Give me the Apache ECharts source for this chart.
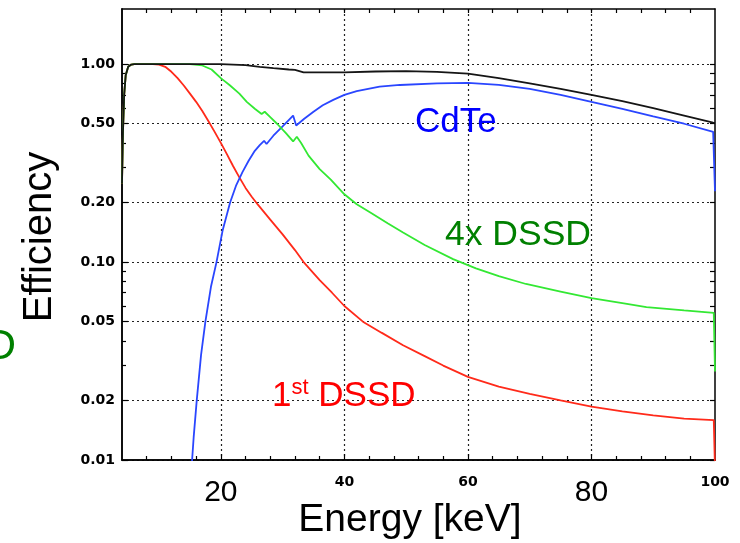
<!DOCTYPE html>
<html>
<head>
<meta charset="utf-8">
<script src="https://cdn.jsdelivr.net/npm/echarts@6/dist/echarts.min.js"></script>
<style>
  html, body { margin: 0; padding: 0; background: #fff; }
  #main { width: 740px; height: 543px; }
</style>
</head>
<body>
<div id="main"></div>
<script>
// tick / label values
var xLabels = [20, 40, 60, 80, 100];
var xMinor = [8, 12, 16, 24, 28, 32, 36, 44, 48, 52, 56, 64, 68, 72, 76, 84, 88, 92, 96];
var yLabels = [0.01, 0.02, 0.05, 0.1, 0.2, 0.5, 1];
var yMinor = [0.03, 0.04, 0.06, 0.07, 0.08, 0.09, 0.3, 0.4, 0.6, 0.7, 0.8, 0.9];

// 1st DSSD (red)
var redE = [4.0, 4.15, 4.35, 4.6, 5.0, 5.5, 6, 9, 10, 11, 12, 13, 14, 15, 16, 17, 18, 19, 20, 21, 22, 23, 24, 25, 26, 28, 30, 32, 33.4, 36, 38, 40, 43, 46, 49.5, 53, 56, 60, 65, 70, 75, 80, 85, 90, 95, 99.8, 100];
var redV = [0.25, 0.45, 0.7, 0.88, 0.97, 0.995, 1.0, 1.0, 0.995, 0.97, 0.915, 0.85, 0.78, 0.71, 0.645, 0.58, 0.515, 0.455, 0.40, 0.35, 0.305, 0.268, 0.237, 0.214, 0.195, 0.164, 0.138, 0.115, 0.10, 0.081, 0.070, 0.060, 0.050, 0.044, 0.038, 0.0335, 0.030, 0.0263, 0.0235, 0.0216, 0.0200, 0.0186, 0.0176, 0.0168, 0.0162, 0.0159, 0.009];

// CdTe (blue)
var blueE = [15.3, 15.6, 16.1, 16.8, 17.5, 18.4, 19.3, 20.3, 21.5, 22.5, 23.5, 24.5, 25.5, 26.3, 27.0, 27.4, 28.5, 30, 31.7, 32.2, 33.5, 35, 36.5, 38.2, 40, 42, 45.7, 49, 55, 60, 65, 70, 75, 80, 85, 90, 95, 99.7, 100];
var blueV = [0.0095, 0.013, 0.02, 0.034, 0.05, 0.075, 0.10, 0.145, 0.20, 0.245, 0.285, 0.325, 0.365, 0.39, 0.41, 0.395, 0.435, 0.485, 0.55, 0.49, 0.53, 0.575, 0.62, 0.66, 0.70, 0.73, 0.77, 0.785, 0.80, 0.805, 0.785, 0.75, 0.70, 0.645, 0.595, 0.545, 0.50, 0.455, 0.228];

// 4x DSSD (green)
var greenE = [4.0, 4.15, 4.35, 4.6, 5.0, 5.5, 6, 15, 17, 18.5, 20, 21.5, 23, 24.2, 25.5, 26.6, 27.1, 28, 29.1, 30.5, 31.7, 32.3, 33, 34.2, 36, 37.8, 40, 42, 44.2, 47, 49.5, 53, 57.6, 61.3, 65, 69.4, 75, 80, 85, 88.9, 95, 99.8, 100];
var greenV = [0.25, 0.45, 0.7, 0.88, 0.97, 0.995, 1.0, 1.0, 0.985, 0.94, 0.85, 0.78, 0.71, 0.645, 0.595, 0.56, 0.575, 0.54, 0.50, 0.45, 0.407, 0.43, 0.40, 0.345, 0.295, 0.261, 0.22, 0.196, 0.178, 0.157, 0.141, 0.122, 0.1035, 0.093, 0.085, 0.0775, 0.071, 0.0657, 0.062, 0.0592, 0.057, 0.0554, 0.028];

// total (black)
var blackE = [4.0, 4.15, 4.35, 4.6, 5.0, 5.5, 6, 20, 24, 26.3, 28.5, 31, 32, 33.4, 36, 40, 45, 50, 55, 60, 65, 70, 75, 80, 85, 90, 95, 99.7, 100];
var blackV = [0.25, 0.45, 0.7, 0.88, 0.97, 0.995, 1.0, 1.0, 0.99, 0.97, 0.955, 0.94, 0.935, 0.91, 0.91, 0.91, 0.918, 0.922, 0.915, 0.895, 0.85, 0.80, 0.75, 0.70, 0.65, 0.60, 0.55, 0.507, 0.505];

function pairs(xs, ys) {
  var out = [];
  for (var i = 0; i < xs.length; i++) {
    out.push([xs[i], ys[i]]);
  }
  return out;
}

function line(data, color) {
  return {
    type: 'line',
    data: data,
    xAxisIndex: 0,
    yAxisIndex: 0,
    showSymbol: false,
    symbol: 'none',
    lineStyle: {color: color, width: 1.8},
    itemStyle: {color: color},
    silent: true
  };
}

var frame = {show: true, onZero: false, lineStyle: {color: '#000', width: 1.5}};
var dotted = {show: true, lineStyle: {color: '#222', width: 1.2, type: [2, 3]}};
var noLabel = {show: false};
var noSplit = {show: false};

var myChart = echarts.init(document.getElementById('main'));

myChart.setOption({
  animation: false,
  grid: {left: 122, right: 25, top: 9, bottom: 83},
  xAxis: [
    {
      type: 'value', min: 4, max: 100, position: 'bottom',
      axisLine: frame,
      axisTick: {show: true, inside: true, length: 6, customValues: [20, 40, 60, 80], lineStyle: {color: '#000', width: 1.2}},
      axisLabel: {
        customValues: xLabels,
        margin: 14,
        formatter: function (v) {
          if (v == 20 || v == 80) {
            return '{big|' + v + '}';
          }
          return '{sm|' + v + '}';
        },
        rich: {
          sm: {fontFamily: 'DejaVu Sans', fontWeight: 'bold', fontSize: 14, lineHeight: 16, color: '#000'},
          big: {fontFamily: 'Liberation Sans', fontSize: 30, lineHeight: 34, color: '#000', padding: [3, 0, 0, 0]}
        }
      },
      splitLine: dotted
    },
    {
      type: 'value', min: 4, max: 100, position: 'bottom',
      axisLine: frame,
      axisTick: {show: true, inside: true, length: 4, customValues: xMinor, lineStyle: {color: '#000', width: 1.2}},
      axisLabel: noLabel, splitLine: noSplit
    },
    {
      type: 'value', min: 4, max: 100, position: 'top',
      axisLine: frame,
      axisTick: {show: true, inside: true, length: 4, customValues: xMinor.concat([20, 40, 60, 80]), lineStyle: {color: '#000', width: 1.2}},
      axisLabel: noLabel, splitLine: noSplit
    }
  ],
  yAxis: [
    {
      type: 'log', logBase: 10, min: 0.01, max: 1.9, position: 'left',
      axisLine: frame,
      axisTick: {show: true, inside: true, length: 6, customValues: yLabels, lineStyle: {color: '#000', width: 1.2}},
      axisLabel: {
        customValues: yLabels,
        margin: 7,
        fontFamily: 'DejaVu Sans', fontWeight: 'bold', fontSize: 14, color: '#000',
        formatter: function (v) {
          return Number(v).toFixed(2);
        }
      },
      splitLine: dotted
    },
    {
      type: 'log', logBase: 10, min: 0.01, max: 1.9, position: 'left',
      axisLine: frame,
      axisTick: {show: true, inside: true, length: 4, customValues: yMinor, lineStyle: {color: '#000', width: 1.2}},
      axisLabel: noLabel, splitLine: noSplit
    },
    {
      type: 'log', logBase: 10, min: 0.01, max: 1.9, position: 'right',
      axisLine: frame,
      axisTick: {show: true, inside: true, length: 5, customValues: yMinor.concat(yLabels), lineStyle: {color: '#000', width: 1.2}},
      axisLabel: noLabel, splitLine: noSplit
    }
  ],
  series: [
    line(pairs(redE, redV), '#ff2a1a'),
    line(pairs(blueE, blueV), '#2a46ff'),
    line(pairs(greenE, greenV), '#33e833'),
    line(pairs(blackE, blackV), '#151515')
  ],
  graphic: [
    {type: 'text', x: 40, y: 237, rotation: Math.PI / 2, z: 100,
      style: {text: 'Efficiency', font: '40px "Liberation Sans"', fill: '#000', align: 'center', verticalAlign: 'middle'}},
    {type: 'text', x: 410, y: 520, z: 100,
      style: {text: 'Energy [keV]', font: '39px "Liberation Sans"', fill: '#000', align: 'center', verticalAlign: 'middle'}},
    {type: 'text', x: 16, y: 347, z: 100,
      style: {text: 'D', font: '43px "Liberation Sans"', fill: '#008000', align: 'right', verticalAlign: 'middle'}},
    {type: 'text', x: 415, y: 122, z: 100,
      style: {text: 'CdTe', font: '35px "Liberation Sans"', fill: '#0000ff', align: 'left', verticalAlign: 'middle'}},
    {type: 'text', x: 445, y: 235, z: 100,
      style: {text: '4x DSSD', font: '35.5px "Liberation Sans"', fill: '#008000', align: 'left', verticalAlign: 'middle'}},
    {type: 'text', x: 272, y: 396, z: 100,
      style: {
        text: '{a|1}{s|st}{a| DSSD}',
        align: 'left', verticalAlign: 'middle',
        rich: {
          a: {fontFamily: 'Liberation Sans', fontSize: 35, lineHeight: 38, fill: '#ff0000'},
          s: {fontFamily: 'Liberation Sans', fontSize: 22, lineHeight: 38, fill: '#ff0000', verticalAlign: 'top'}
        }
      }}
  ]
});
</script>
</body>
</html>
